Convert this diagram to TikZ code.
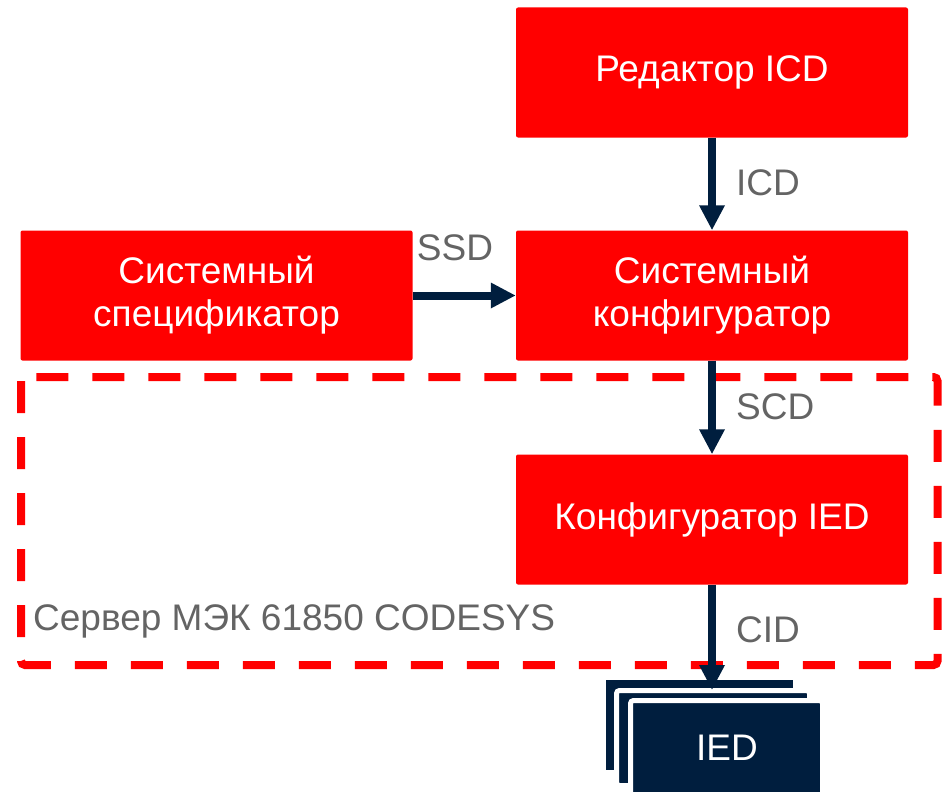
\documentclass[tikz,border=0pt]{standalone}
\usepackage{fontspec}
\setmainfont{Liberation Sans}
\usetikzlibrary{arrows.meta}
\definecolor{boxred}{RGB}{255,0,0}
\definecolor{navy}{RGB}{0,30,62}
\definecolor{labelgray}{RGB}{100,100,100}
\tikzset{
  redbox/.style={fill=boxred, text=white, minimum width=392pt, minimum height=130pt,
    inner sep=0pt, align=center, rounded corners=2pt, font=\fontsize{37}{43}\selectfont},
  flow/.style={draw=navy, line width=8pt, -{Triangle[width=24pt,length=25pt]}},
  flowlabel/.style={text=labelgray, font=\fontsize{37}{43}\selectfont, inner sep=0pt},
  iedcard/.style={fill=navy, draw=white, line width=5pt, rounded corners=3pt},
}
\begin{document}
\begin{tikzpicture}[x=1pt,y=-1pt]
\useasboundingbox (0,0) rectangle (945,792);

% dashed boundary of the server
\draw[boxred, line width=8pt, dash pattern=on 32pt off 24pt, rounded corners=4pt]
  (21,377) rectangle (937.5,665);
\node[flowlabel, anchor=west] (srv) at (33,621) {Сервер МЭК 61850 CODESYS};

% tool boxes
\node[redbox] (ed) at (712,72.5) {Редактор ICD};
\node[redbox] (ss) at (216.5,295.5) {Системный\\спецификатор};
\node[redbox] (sk) at (712,295.5) {Системный\\конфигуратор};
\node[redbox] (ki) at (712,519.5) {Конфигуратор IED};

% stack of IED devices
\node[fill=navy, inner sep=0pt, minimum width=187pt, minimum height=90pt, anchor=north west]
  (iedback) at (606,680) {};
\draw[iedcard] (616.5,690.5) rectangle (809.5,785.5);
\coordinate (iedmid) at (616.5,690.5);
\draw[iedcard] (630.5,700.5) rectangle (822.5,800);
\node[text=white, font=\fontsize{37}{43}\selectfont] (ied) at (727,748) {IED};

% data flows
\coordinate (iedin) at (712,690);
\draw[flow] (ed.south) -- (sk.north);
\draw[flow] (ss.east) -- (sk.west);
\draw[flow] (sk.south) -- (ki.north);
\draw[flow] (ki.south) -- (iedin);

% flow labels
\node[flowlabel, anchor=west] (lbicd) at (736,183) {ICD};
\node[flowlabel] (lbssd) at (455,248) {SSD};
\node[flowlabel, anchor=west] (lbscd) at (736,407) {SCD};
\node[flowlabel, anchor=west] (lbcid) at (736,630) {CID};
\end{tikzpicture}
\end{document}
